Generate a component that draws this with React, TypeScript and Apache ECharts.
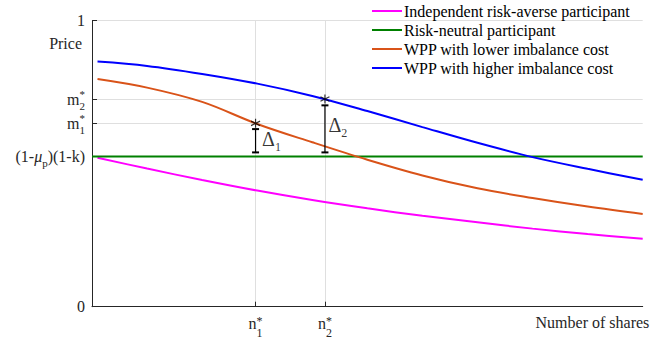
import React, { useEffect, useRef } from "react";
import * as echarts from "echarts";

// ---- data ----
const shares = [0.01, 0.1, 0.2, 0.3, 0.4, 0.5, 0.6, 0.7, 0.8, 0.9, 1.0];
const independentRiskAverse = [0.521, 0.483, 0.443, 0.406, 0.373, 0.344, 0.318, 0.295, 0.273, 0.254, 0.238];
const lowerImbalance = [0.796, 0.766, 0.716, 0.639, 0.575, 0.514, 0.459, 0.414, 0.38, 0.35, 0.324];
const higherImbalance = [0.857, 0.842, 0.814, 0.78, 0.737, 0.684, 0.628, 0.573, 0.523, 0.482, 0.444];
const riskNeutralLevel = 0.5255;
const riskNeutralX = [0, 1];

const n1 = 0.297;
const n2 = 0.423;
const m1 = 0.641;
const m2 = 0.726;
const delta1Range = [0.5395, 0.621];
const delta2Range = [0.5395, 0.704];
const delta1LabelY = 0.587;
const delta2LabelY = 0.636;

const yTickValues = [0, riskNeutralLevel, m1, m2, 1];
const xTickValues = [n1, n2];

const seriesNames = [
  "Independent risk-averse participant",
  "Risk-neutral participant",
  "WPP with lower imbalance cost",
  "WPP with higher imbalance cost",
];
const seriesColors = ["#ff00ff", "#008000", "#d95319", "#0000ff"];

const FONT = "'Liberation Serif', 'Times New Roman', serif";
const INK = "#262626";
const GRID = "#dfdfdf";

const near = (a: number, b: number) => Math.abs(a - b) < 1e-6;

function yLabel(v: number): string {
  if (near(v, 0)) return "{b|0}";
  if (near(v, 1)) return "{b|1}";
  if (near(v, m2)) return "{s|*}\n{b|m}{u|2}";
  if (near(v, m1)) return "{s|*}\n{b|m}{u|1}";
  if (near(v, riskNeutralLevel)) return "{b|(1-}{i|μ}{u|p}{b|)(1-k)}";
  return "";
}

function xLabel(v: number): string {
  if (near(v, n1)) return "{s|*}\n{b|n}{u|1}";
  if (near(v, n2)) return "{s|*}\n{b|n}{u|2}";
  return "";
}

const pairs = (ys: number[]) => shares.map((x, i) => [x, ys[i]]);

const ASTERISK = "path://M5,0L5,10M0.67,2.5L9.33,7.5M0.67,7.5L9.33,2.5";

export default function App() {
  const ref = useRef<HTMLDivElement>(null);
  useEffect(() => {
    document.body.style.margin = "0";
    if (!ref.current) return;
    const chart = echarts.init(ref.current, undefined, { renderer: "svg" });
    const curve = (name: string, data: number[][], color: string) => ({
      name,
      type: "line",
      data,
      smooth: 0.35,
      symbol: "none",
      lineStyle: { color, width: 2 },
      itemStyle: { color },
      z: 3,
    });
    const errBar = (x: number, r: number[]) => ({
      type: "line",
      data: [
        [x, r[0]],
        [x, r[1]],
      ],
      symbol: "rect",
      symbolSize: [7, 2],
      showSymbol: true,
      itemStyle: { color: "#000" },
      lineStyle: { color: "#000", width: 1.2 },
      silent: true,
      z: 5,
    });
    const deltaLabel = (x: number, y: number, sub: string, dist: number) => ({
      type: "scatter",
      data: [[x, y]],
      symbol: "circle",
      symbolSize: 1,
      itemStyle: { color: "rgba(0,0,0,0)" },
      silent: true,
      z: 6,
      label: {
        show: true,
        position: "right",
        distance: dist,
        formatter: "{d|Δ}{u|" + sub + "}",
        rich: {
          d: { fontFamily: FONT, fontSize: 20, lineHeight: 18, color: "#000" },
          u: { fontFamily: FONT, fontSize: 12, lineHeight: 18, color: "#000", padding: [16, 0, 0, 0] },
        },
      },
    });
    chart.setOption({
      animation: false,
      grid: { left: 92, right: 28.3, top: 20.7, bottom: 40.3, containLabel: false },
      legend: {
        data: seriesNames,
        orient: "vertical",
        left: 371,
        top: 3,
        padding: 0,
        itemGap: 3,
        itemWidth: 30,
        itemHeight: 14,
        itemStyle: { color: "rgba(0,0,0,0)", borderColor: "rgba(0,0,0,0)", borderWidth: 0 },
        textStyle: { fontFamily: FONT, fontSize: 16, color: "#000", padding: [0, 0, 0, -3] },
      },
      xAxis: {
        type: "value",
        min: 0,
        max: 1,
        name: "Number of shares",
        nameLocation: "end",
        nameGap: 6.6,
        nameTextStyle: {
          fontFamily: FONT,
          fontSize: 16,
          color: INK,
          align: "right",
          verticalAlign: "top",
          padding: [8, 0, 0, 0],
        },
        axisLine: { show: true, lineStyle: { color: INK, width: 1 } },
        axisTick: { show: true, inside: true, length: 5, customValues: xTickValues, lineStyle: { color: INK } },
        axisLabel: {
          customValues: xTickValues,
          margin: 10,
          formatter: (v: number) => xLabel(v),
          rich: {
            b: { fontFamily: FONT, fontSize: 16, lineHeight: 14, color: INK },
            u: { fontFamily: FONT, fontSize: 12, lineHeight: 14, color: INK, padding: [19, 0, 0, 0] },
            s: { fontFamily: FONT, fontSize: 12, lineHeight: 0, color: INK, padding: [8, 0, 0, 0], align: "right" },
          },
        },
        splitLine: { show: true, lineStyle: { color: GRID, width: 1 } },
      },
      yAxis: {
        type: "value",
        min: 0,
        max: 1,
        name: "Price",
        nameLocation: "end",
        nameGap: -23,
        nameTextStyle: {
          fontFamily: FONT,
          fontSize: 16,
          color: INK,
          align: "right",
          verticalAlign: "middle",
          padding: [0, 10, 0, 0],
        },
        axisLine: { show: true, lineStyle: { color: INK, width: 1 } },
        axisTick: { show: true, inside: true, length: 5, customValues: yTickValues, lineStyle: { color: INK } },
        axisLabel: {
          customValues: yTickValues,
          margin: 7,
          formatter: (v: number) => yLabel(v),
          rich: {
            b: { fontFamily: FONT, fontSize: 16, lineHeight: 14, color: INK },
            i: { fontFamily: FONT, fontSize: 16, lineHeight: 14, color: INK, fontStyle: "italic" },
            u: { fontFamily: FONT, fontSize: 11, lineHeight: 14, color: INK, padding: [14, 0, 0, 0] },
            s: { fontFamily: FONT, fontSize: 11, lineHeight: 0, color: INK, padding: [3, 0, 0, 0], align: "right" },
          },
        },
        splitLine: { show: true, lineStyle: { color: GRID, width: 1 } },
      },
      series: [
        curve(seriesNames[0], pairs(independentRiskAverse), seriesColors[0]),
        curve(
          seriesNames[1],
          riskNeutralX.map((x) => [x, riskNeutralLevel]),
          seriesColors[1]
        ),
        curve(seriesNames[2], pairs(lowerImbalance), seriesColors[2]),
        curve(seriesNames[3], pairs(higherImbalance), seriesColors[3]),
        errBar(n1, delta1Range),
        errBar(n2, delta2Range),
        {
          type: "scatter",
          data: [
            [n1, m1],
            [n2, m2],
          ],
          symbol: ASTERISK,
          symbolSize: 9,
          itemStyle: { color: "rgba(0,0,0,0)", borderColor: "#000", borderWidth: 1.2 },
          silent: true,
          z: 7,
        },
        deltaLabel(n1, delta1LabelY, "1", 6),
        deltaLabel(n2, delta2LabelY, "2", 3),
      ],
    });
    return () => chart.dispose();
  }, []);
  return <div ref={ref} style={{ width: 671, height: 347 }} />;
}
